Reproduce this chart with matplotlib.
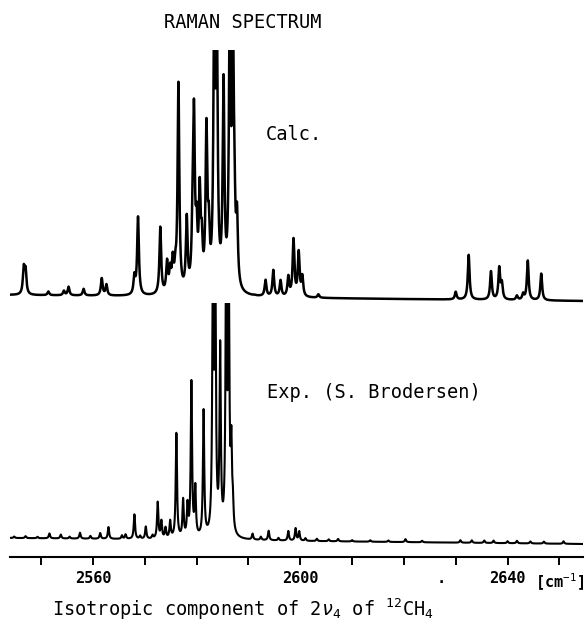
import numpy as np
import matplotlib
matplotlib.use("Agg")
import matplotlib.pyplot as plt

plt.rcParams['font.family'] = ['DejaVu Sans Mono', 'DejaVu Sans']
plt.rcParams['mathtext.fontset'] = 'custom'
plt.rcParams['mathtext.rm'] = 'DejaVu Sans Mono'
plt.rcParams['mathtext.it'] = 'DejaVu Sans Mono:italic'
plt.rcParams['mathtext.bf'] = 'DejaVu Sans Mono:bold'

# ---------------- data (wavenumber in cm-1, observed peak height above baseline) ----------------
calc_pos = [2546.65, 2547.0, 2551.4, 2554.4, 2555.3, 2558.2, 2561.7, 2562.6,
            2568.0, 2568.7, 2573.0, 2574.3, 2574.9, 2575.4, 2575.9, 2576.5,
            2578.1, 2579.25, 2579.5, 2580.0, 2580.6, 2581.0, 2581.9, 2582.35,
            2583.4, 2583.9, 2585.2, 2586.4, 2587.0, 2587.3, 2587.8,
            2591.2, 2593.3, 2594.8, 2596.2, 2597.7, 2598.7, 2599.7, 2600.4, 2603.5,
            2630.0, 2632.5, 2636.8, 2638.4, 2638.9, 2641.8, 2643.0, 2643.9, 2646.5]
calc_int = [31, 29, 4, 5, 9, 7, 18, 12,
            24, 80, 70, 38, 34, 45, 47, 215,
            83, 132, 198, 95, 120, 78, 179, 95,
            300, 300, 223, 300, 300, 158, 95,
            3, 18, 28, 18, 23, 60, 48, 24, 4,
            8, 45, 29, 34, 20, 5, 8, 40, 27]
calc_baseline = [0, -6]          # left end, right end

exp_pos = [2544.8, 2547.0, 2549.3, 2551.6, 2553.8, 2555.5, 2557.5, 2559.5, 2561.4, 2563.0,
           2565.6, 2566.3, 2568.0, 2569.1, 2570.2, 2571.5, 2572.5, 2573.2, 2574.0, 2574.9,
           2576.1, 2577.4, 2578.25, 2579.0, 2579.75, 2581.35, 2583.15, 2583.6,
           2584.55, 2585.7, 2586.2, 2586.7, 2587.0,
           2590.8, 2592.4, 2593.9, 2595.8, 2597.7, 2599.1, 2599.8, 2601.0, 2603.2,
           2605.5, 2607.3, 2610.0, 2613.5, 2617.0, 2620.3, 2623.5, 2630.9, 2633.1,
           2635.5, 2637.3, 2640.0, 2641.8, 2644.4, 2647.0, 2650.8]
exp_int = [1.5, 2, 1.5, 5, 4, 2, 6, 3, 6, 12,
           4, 5, 25, 4, 13, 5, 38, 20, 13, 20,
           107, 42, 40, 160, 57, 131, 300, 300,
           200, 300, 300, 115, 55,
           7, 4, 10, 3, 10, 13, 10, 3, 2.5,
           2, 2.5, 1.5, 1.5, 1.5, 3, 1.5, 2.5, 2.5,
           2.5, 2.5, 2, 2.5, 2, 2, 2.5]
exp_baseline = [0, -6]

tick_values = [2550, 2560, 2570, 2580, 2590, 2600, 2610, 2620, 2630, 2640, 2650]
tick_labels = ['', '2560', '', '', '', '2600', '', '', '', '2640', '[cm$^{-1}$]']

XMIN, XMAX = 2544.0, 2654.5


def line_strengths(pos, heights, gamma):
    """Scale Lorentzian line strengths so the summed curve reaches the observed heights."""
    p = np.asarray(pos, float)
    h = np.asarray(heights, float)
    m = gamma ** 2 / ((p[:, None] - p[None, :]) ** 2 + gamma ** 2)
    a = h.copy()
    for _ in range(300):
        a *= h / (m @ a)
    return a


def spectrum(x, pos, heights, base, gamma):
    a = line_strengths(pos, heights, gamma)
    y = np.zeros_like(x)
    for p, s in zip(pos, a):
        y += s * gamma ** 2 / ((x - p) ** 2 + gamma ** 2)
    y += np.interp(x, [XMIN, XMAX], base)
    return y


x = np.linspace(XMIN, XMAX, 12000)
y_calc = spectrum(x, calc_pos, calc_int, calc_baseline, 0.2)
y_exp = spectrum(x, exp_pos, exp_int, exp_baseline, 0.15)

# ---------------- figure ----------------
W, H = 585, 628
fig = plt.figure(figsize=(W / 100, H / 100), dpi=100)


def rect(left, top, right, bottom):
    return [left / W, 1 - bottom / H, (right - left) / W, (bottom - top) / H]


ax_c = fig.add_axes(rect(10, 50, 582.7, 310))
ax_c.plot(x, y_calc, color='black', lw=1.8, solid_joinstyle='round')
ax_c.set_xlim(XMIN, XMAX)
ax_c.set_ylim(-15, 245)
ax_c.axis('off')

ax_e = fig.add_axes(rect(10, 303, 582.7, 557.3))
ax_e.patch.set_visible(False)
ax_e.plot(x, y_exp, color='black', lw=1.5, solid_joinstyle='round')
ax_e.set_xlim(XMIN, XMAX)
ax_e.set_ylim(-19.3, 235)
for s in ['left', 'right', 'top']:
    ax_e.spines[s].set_visible(False)
ax_e.spines['bottom'].set_linewidth(1.5)
ax_e.set_yticks([])
ax_e.set_xticks(tick_values)
ax_e.set_xticklabels(tick_labels, fontsize=11, fontweight='bold')
ax_e.tick_params(axis='x', direction='out', length=6, width=1.4, pad=4)


def ftext(px, py, s, **kw):
    fig.text(px / W, 1 - py / H, s, **kw)


ftext(243, 22, 'RAMAN SPECTRUM', fontsize=13.4, ha='center', va='center')
ftext(265.4, 135, 'Calc.', fontsize=13.4, ha='left', va='center')
ftext(267.3, 392, 'Exp. (S. Brodersen)', fontsize=13.4, ha='left', va='center')
ftext(441, 583, '.', fontsize=11, fontweight='bold', ha='center', va='baseline')
ftext(51.7, 616, r'Isotropic component of 2$\nu_4$ of $^{12}$CH$_4$',
      fontsize=13.4, ha='left', va='baseline')

fig.savefig('out.png', dpi=100, facecolor='white')
